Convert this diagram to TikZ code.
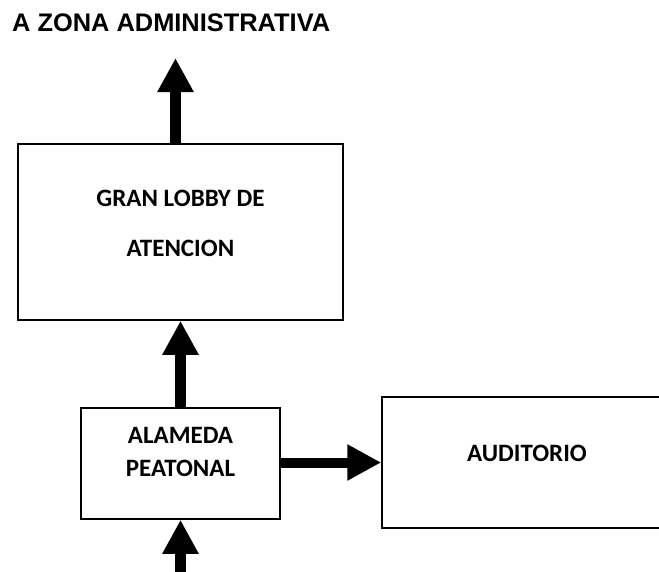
\documentclass[tikz,border=0pt]{standalone}
\usepackage{fontspec}
\newfontfamily\carl{Carlito}
\newfontfamily\libsans{Liberation Sans}
\usetikzlibrary{arrows.meta}
\tikzset{
  roombox/.style={draw, line width=1.5pt, inner sep=0pt, align=center},
  bigarrow/.style={line width=11.5pt, -{Triangle[length=34pt,width=34pt]}},
}
\begin{document}
\begin{tikzpicture}[x=1pt,y=-1pt]
\useasboundingbox (0,0) rectangle (659,571);
\clip (0,0) rectangle (659,571);
\node[anchor=base west, inner sep=0pt, font=\libsans\bfseries\fontsize{25.4}{30}\selectfont] (title) at (12,31) {A ZONA ADMINISTRATIVA};
\node[roombox, minimum width=325, minimum height=176, text height=49pt, text depth=0pt,
      font=\carl\bfseries\fontsize{25}{50}\selectfont] (lobby) at (180.5,232) {GRAN LOBBY DE\\ATENCION};
\node[roombox, minimum width=199, minimum height=111, text height=25pt, text depth=0pt,
      font=\carl\bfseries\fontsize{25}{33}\selectfont] (alameda) at (180.5,463.5) {ALAMEDA\\PEATONAL};
\node[roombox, minimum width=290, minimum height=131, text height=16pt, text depth=19pt,
      font=\carl\bfseries\fontsize{25}{33}\selectfont] (aud) at (527,462.5) {AUDITORIO};
\coordinate (topend) at (175.5,58);
\coordinate (botstart) at (180.5,575);
\draw[bigarrow] (lobby.north -| topend) -- (topend);
\draw[bigarrow] (alameda.north) -- (lobby.south);
\draw[bigarrow] (botstart) -- (alameda.south);
\draw[bigarrow, line width=10pt] (alameda.east |- aud.west) -- (aud.west);
\end{tikzpicture}
\end{document}
